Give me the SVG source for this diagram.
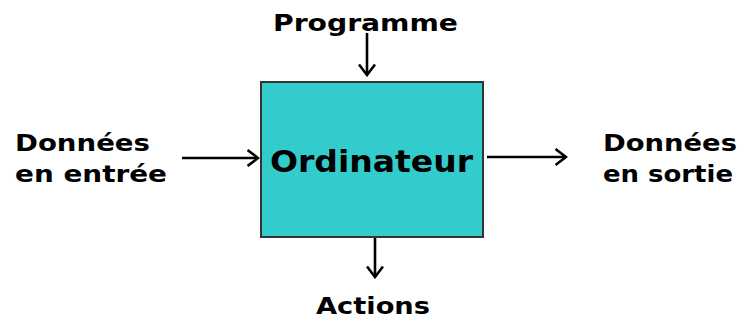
<svg xmlns="http://www.w3.org/2000/svg" width="745" height="320" viewBox="0 0 745 320">
<defs>
<marker id="ah" viewBox="0 0 13 18" refX="11.5" refY="9" markerWidth="13" markerHeight="18" markerUnits="userSpaceOnUse" orient="auto">
<path d="M1,1 L11.5,9 L1,17" fill="none" stroke="#000" stroke-width="2.6"/>
</marker>
<style>
.t{font-family:"DejaVu Sans",Verdana,sans-serif;font-weight:bold;font-size:23px;fill:#000;}
.c{stroke:#000;stroke-width:2.6;fill:none;marker-end:url(#ah);}
</style>
</defs>
<rect width="745" height="320" fill="#fff"/>
<g id="ordinateur">
<rect x="261" y="82" width="222" height="155" fill="#33CCCC" stroke="#333" stroke-width="2"/>
<text x="270" y="172" class="t" style="font-size:30px" textLength="203" lengthAdjust="spacingAndGlyphs">Ordinateur</text>
</g>
<g id="programme"><text x="273" y="31" class="t" textLength="185" lengthAdjust="spacingAndGlyphs">Programme</text></g>
<g id="entree"><text x="15" y="151" class="t" textLength="135" lengthAdjust="spacingAndGlyphs">Données</text><text x="15" y="182" class="t" textLength="152" lengthAdjust="spacingAndGlyphs">en entrée</text></g>
<g id="sortie"><text x="603" y="151" class="t" textLength="134" lengthAdjust="spacingAndGlyphs">Données</text><text x="603" y="182" class="t" textLength="130" lengthAdjust="spacingAndGlyphs">en sortie</text></g>
<g id="actions"><text x="316" y="314" class="t" textLength="114" lengthAdjust="spacingAndGlyphs">Actions</text></g>
<g id="connectors">
<line x1="367" y1="33" x2="367" y2="75" class="c"/>
<line x1="182" y1="158" x2="258" y2="158" class="c"/>
<line x1="487" y1="157" x2="566" y2="157" class="c"/>
<line x1="375" y1="238" x2="375" y2="277" class="c"/>
</g>
</svg>
